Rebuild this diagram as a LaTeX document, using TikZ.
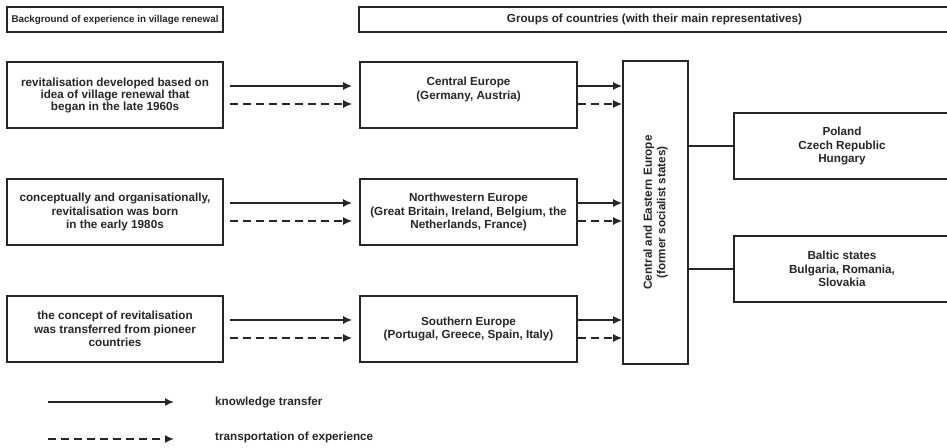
\documentclass[tikz,border=0pt]{standalone}
\usepackage{fontspec}
\setmainfont{Liberation Sans}
\usetikzlibrary{
    arrows.meta,
    positioning,
    calc
}

\tikzset{
    box/.style={draw=black!85, line width=1.6pt, inner sep=0pt,
        minimum width=216pt, minimum height=66pt, align=center,
        text=black!85, font=\bfseries\fontsize{11.7}{13.5}\selectfont},
    txt/.style={inner sep=0pt, align=center, text=black!85,
        font=\bfseries\fontsize{11.7}{13.5}\selectfont},
    know/.style={draw=black!85, line width=1.6pt, -{Latex[length=9pt,width=8pt]}},
    expe/.style={know, dash pattern=on 8pt off 5pt},
}

\begin{document}
\begin{tikzpicture}[x=1pt, y=-1pt]
    \useasboundingbox (0,0) rectangle (947,447);
    \clip (0,0) rectangle (947,447);

    % headings
    \node[box, minimum height=25pt, font=\bfseries\fontsize{9.8}{11}\selectfont] (bg) at (115,19.5) {Background of experience in village renewal};
    \node[box, minimum width=591pt, minimum height=25pt] (grp) at (654.5,19.5) {Groups of countries (with their main representatives)};

    % background of experience
    \node[box, font=\bfseries\fontsize{11.7}{12}\selectfont] (late) at (115,95) {revitalisation developed based on\\idea of village renewal that\\began in the late 1960s};
    \node[box] (early) at (115,212) {conceptually and organisationally,\\revitalisation was born\\in the early 1980s};
    \node[box] (pioneer) at (115,329) {the concept of revitalisation\\was transferred from pioneer\\countries};

    % groups of countries
    \node[box, minimum width=217pt] (central) at (468.5,95) {Central Europe\\(Germany, Austria)\\\mbox{}};
    \node[box, minimum width=217pt] (northwest) at (468.5,212) {Northwestern Europe\\(Great Britain, Ireland, Belgium, the\\Netherlands, France)};
    \node[box, minimum width=217pt] (southern) at (468.5,329) {Southern Europe\\(Portugal, Greece, Spain, Italy)};

    \node[box, minimum width=65pt, minimum height=303pt] (cee) at (655.5,212.5) {};
    \node[txt, rotate=90] (ceetext) at (cee) {Central and Eastern Europe\\(former socialist states)};

    \node[box, minimum width=216pt] (visegrad) at (842,146) {Poland\\Czech Republic\\Hungary};
    \node[box, minimum width=216pt] (baltic) at (842,269) {Baltic states\\Bulgaria, Romania,\\Slovakia};

    % transfers
    \foreach \src/\dst in {late/central, early/northwest, pioneer/southern} {
        \draw[know, shorten <=6pt, shorten >=7pt] ([yshift=9pt]\src.east) -- ([yshift=9pt]\dst.west);
        \draw[expe, shorten <=6pt, shorten >=7pt] ([yshift=-9pt]\src.east) -- ([yshift=-9pt]\dst.west);
        \draw[know] ([yshift=9pt]\dst.east) -- ([yshift=9pt]\dst.east -| cee.west);
        \draw[expe] ([yshift=-9pt]\dst.east) -- ([yshift=-9pt]\dst.east -| cee.west);
    }

    \draw[draw=black!85, line width=1.4pt] (cee.east |- visegrad.west) -- (visegrad.west);
    \draw[draw=black!85, line width=1.4pt] (cee.east |- baltic.west) -- (baltic.west);

    % legend
    \coordinate (ks) at (48,402);
    \coordinate (ke) at (174,402);
    \coordinate (es) at (48,439);
    \coordinate (ee) at (174,439);
    \node[txt, anchor=west] (kt) at (215,402) {knowledge transfer};
    \node[txt, anchor=west] (et) at (215,437) {transportation of experience};
    \draw[know] (ks) -- (ke);
    \draw[expe] (es) -- (ee);
\end{tikzpicture}
\end{document}
